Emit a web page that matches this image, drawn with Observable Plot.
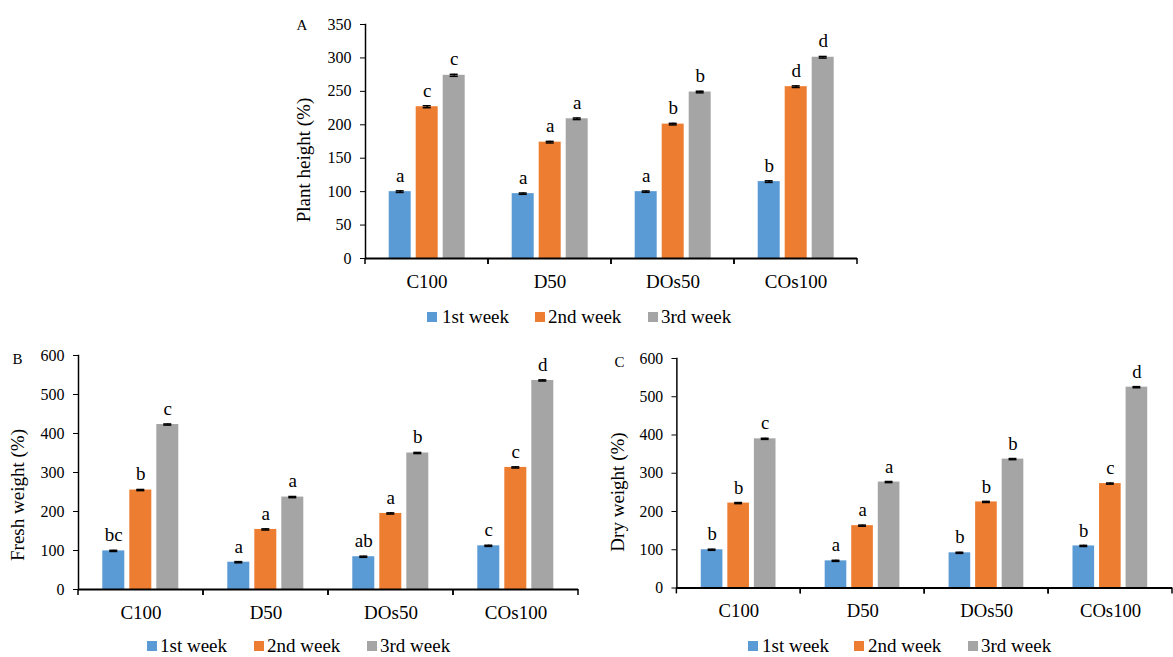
<!DOCTYPE html>
<html>
<head>
<meta charset="utf-8">
<script src="https://cdn.jsdelivr.net/npm/d3@7"></script>
<script src="https://cdn.jsdelivr.net/npm/@observablehq/plot@0.6"></script>
<style>
  html, body { margin: 0; padding: 0; background: #fff; }
  #root { position: relative; width: 1173px; height: 657px; overflow: hidden; background: #fff;
          font-family: "Liberation Serif", "Times New Roman", serif; color: #000; }
  #root div { font-family: "Liberation Serif", "Times New Roman", serif; }
  .abs { position: absolute; }
  .panel svg { display: block; }
  .ylabel { position: absolute; font-size: 19px; white-space: nowrap; transform: translate(-50%, -50%) rotate(-90deg); }
  .tag { position: absolute; font-size: 15px; transform: translate(-50%, -50%); }
  .leg-sq { position: absolute; width: 10px; height: 10px; transform: translateY(-50%); }
  .leg-tx { position: absolute; font-size: 19px; line-height: 1; white-space: nowrap; transform: translateY(-52%); }
</style>
</head>
<body>
<div id="root"></div>
<script>
// ---------- data ----------
const categories = ["C100", "D50", "DOs50", "COs100"];
const weeks = ["1st week", "2nd week", "3rd week"];
const colors = ["#5B9BD5", "#ED7D31", "#A5A5A5"];

// A: Plant height (%)
const heightWeek1 = [100, 97, 100, 115];
const heightWeek2 = [227, 174, 201, 257];
const heightWeek3 = [274, 209, 249, 301];
const heightErr1 = [1.2, 1.0, 1.0, 1.2];
const heightErr2 = [1.5, 1.2, 1.2, 1.2];
const heightErr3 = [1.5, 1.2, 1.2, 1.2];
const heightLetters1 = ["a", "a", "a", "b"];
const heightLetters2 = ["c", "a", "b", "d"];
const heightLetters3 = ["c", "a", "b", "d"];

// B: Fresh weight (%)
const freshWeek1 = [99, 70, 84, 112];
const freshWeek2 = [255, 154, 195, 313];
const freshWeek3 = [423, 237, 350, 536];
const freshErr1 = [1.5, 1.5, 1.5, 1.5];
const freshErr2 = [1.5, 1.5, 1.5, 1.5];
const freshErr3 = [1.5, 1.5, 1.5, 1.5];
const freshLetters1 = ["bc", "a", "ab", "c"];
const freshLetters2 = ["b", "a", "a", "c"];
const freshLetters3 = ["c", "a", "b", "d"];

// C: Dry weight (%)
const dryWeek1 = [100, 71, 92, 110];
const dryWeek2 = [222, 163, 225, 273];
const dryWeek3 = [390, 277, 337, 525];
const dryErr1 = [1.5, 1.5, 1.5, 1.5];
const dryErr2 = [1.5, 1.5, 1.5, 1.5];
const dryErr3 = [1.5, 1.5, 1.5, 1.5];
const dryLetters1 = ["b", "a", "b", "b"];
const dryLetters2 = ["b", "a", "b", "c"];
const dryLetters3 = ["c", "a", "b", "d"];

// ---------- helpers ----------
function table(vals, errs, letters) {
  const rows = [];
  categories.forEach((c, i) => weeks.forEach((w, j) =>
    rows.push({cat: c, week: w, value: vals[j][i], err: errs[j][i], letter: letters[j][i]})));
  return rows;
}

// small tick marks at the category boundaries, below the x axis line
function boundaryTicks(index, scales, values, dims) {
  const g = d3.create("svg:g").attr("stroke", "black").attr("stroke-width", 1.5);
  const y = dims.height - dims.marginBottom;
  for (const x of [dims.marginLeft, dims.width - dims.marginRight]) {
    g.append("line").attr("x1", x).attr("x2", x).attr("y1", y).attr("y2", y + 6);
  }
  return g.node();
}

function panel(data, cfg) {
  return Plot.plot({
    width: cfg.width, height: cfg.height,
    marginLeft: cfg.marginLeft, marginRight: cfg.marginRight,
    marginTop: cfg.marginTop, marginBottom: cfg.marginBottom,
    style: {fontFamily: '"Liberation Serif", "Times New Roman", serif', fontSize: "16px",
            color: "#000", background: "transparent", overflow: "visible"},
    fx: {domain: categories, padding: 0, label: null, axis: null},
    x: {domain: weeks, paddingInner: 0.2, paddingOuter: 0.855, axis: null},
    y: {domain: [0, cfg.yMax], ticks: d3.range(0, cfg.yMax + 1, cfg.yStep),
        tickSize: 5, tickPadding: 9, label: null},
    color: {domain: weeks, range: colors},
    marks: [
      Plot.frame({anchor: "left", facetAnchor: "left", stroke: "black", strokeWidth: 1.5}),
      Plot.barY(data, {fx: "cat", x: "week", y: "value", fill: "week"}),
      Plot.ruleX(data, {fx: "cat", x: "week", y1: d => d.value - d.err, y2: d => d.value + d.err,
                        stroke: "black", strokeWidth: 1.5}),
      Plot.tickY(data, {fx: "cat", x: "week", y: d => d.value + d.err, stroke: "black",
                        strokeWidth: 1.5, insetLeft: 7, insetRight: 7}),
      Plot.tickY(data, {fx: "cat", x: "week", y: d => d.value - d.err, stroke: "black",
                        strokeWidth: 1.5, insetLeft: 7, insetRight: 7}),
      Plot.text(data, {fx: "cat", x: "week", y: d => d.value + d.err, text: "letter",
                       lineAnchor: "bottom", dy: -9, fontSize: 19, fill: "black"}),
      Plot.ruleY([0], {stroke: "black", strokeWidth: 2}),
      boundaryTicks,
      Plot.axisFx({anchor: "bottom", tickSize: 0, tickPadding: 16, fontSize: 19, label: null})
    ]
  });
}

const root = document.getElementById("root");
function place(node, left, top) {
  const d = document.createElement("div");
  d.className = "abs panel";
  d.style.left = left + "px"; d.style.top = top + "px";
  d.appendChild(node);
  root.appendChild(d);
}
function addText(cls, txt, x, y) {
  const d = document.createElement("div");
  d.className = cls; d.textContent = txt;
  d.style.left = x + "px"; d.style.top = y + "px";
  root.appendChild(d);
}
function legend(squareXs, textXs, y) {
  weeks.forEach((w, i) => {
    const s = document.createElement("div");
    s.className = "leg-sq"; s.style.background = colors[i];
    s.style.left = squareXs[i] + "px"; s.style.top = y + "px";
    root.appendChild(s);
    addText("leg-tx", w, textXs[i], y);
  });
}

// ---------- panel A ----------
place(panel(table([heightWeek1, heightWeek2, heightWeek3], [heightErr1, heightErr2, heightErr3],
                  [heightLetters1, heightLetters2, heightLetters3]),
  {width: 600, height: 300, marginLeft: 83.3, marginRight: 21.5, marginTop: 24, marginBottom: 42,
   yMax: 350, yStep: 50}), 280, 0);
addText("ylabel", "Plant height (%)", 304, 160);
addText("tag", "A", 302, 25);
legend([427, 535, 648], [442, 548, 661], 317);

// ---------- panel B ----------
place(panel(table([freshWeek1, freshWeek2, freshWeek3], [freshErr1, freshErr2, freshErr3],
                  [freshLetters1, freshLetters2, freshLetters3]),
  {width: 600, height: 280, marginLeft: 76.7, marginRight: 20.4, marginTop: 15, marginBottom: 31,
   yMax: 600, yStep: 100}), 0, 340);
addText("ylabel", "Fresh weight (%)", 18, 495);
addText("tag", "B", 17.5, 358.5);
legend([147, 254, 367], [160, 267, 380], 646);

// ---------- panel C ----------
place(panel(table([dryWeek1, dryWeek2, dryWeek3], [dryErr1, dryErr2, dryErr3],
                  [dryLetters1, dryLetters2, dryLetters3]),
  {width: 603, height: 280, marginLeft: 97.2, marginRight: 0, marginTop: 18.3, marginBottom: 28.3,
   yMax: 600, yStep: 100}), 580, 340);
addText("ylabel", "Dry weight (%)", 618, 492);
addText("tag", "C", 619.5, 361.5);
legend([747.5, 854, 968], [762, 868, 981], 646);
</script>
</body>
</html>
